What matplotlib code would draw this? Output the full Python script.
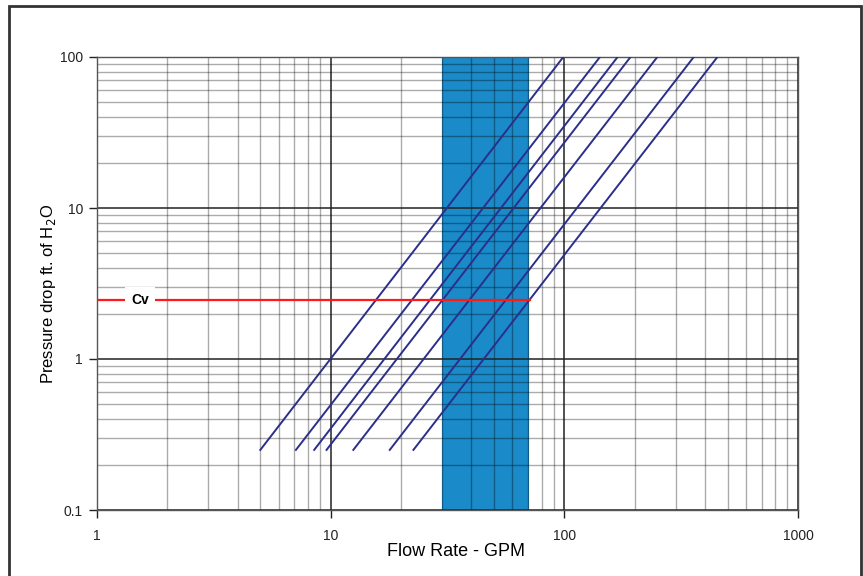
import matplotlib.pyplot as plt
from matplotlib.patches import Rectangle
from matplotlib.ticker import LogLocator, FixedLocator, NullFormatter

plt.rcParams['font.family'] = ['Liberation Sans', 'DejaVu Sans']

# curve endpoints: flow (GPM) at the low and high pressure ends
pressure_ends = [0.25, 100]
flow_start = [5.0, 7.1, 8.5, 9.6, 12.5, 17.9, 22.6]
flow_end = [99, 142, 169, 192, 250, 358, 452]

# shaded operating range
band_lo = 30
band_hi = 70.5

# Cv reference line
cv_pressure = 2.45
cv_flow = [1.02, 71.5]

x_ticks = [1, 10, 100, 1000]
x_labels = ["1", "10", "100", "1000"]
y_ticks = [0.1, 1, 10, 100]
y_labels = ["0.1", "1", "10", "100"]

fig = plt.figure(figsize=(8.63, 5.76), dpi=100)
ax = fig.add_axes([97/863, 1-510/576, (798-97)/863, (510-57)/576])

ax.set_xscale('log')
ax.set_yscale('log')
ax.set_xlim(1, 1000)
ax.set_ylim(0.1, 100)

ax.axvspan(band_lo, band_hi, color='#1a8ac8', zorder=1, lw=0)

ax.xaxis.set_minor_locator(LogLocator(base=10, subs=range(2, 10)))
ax.yaxis.set_minor_locator(LogLocator(base=10, subs=range(2, 10)))
ax.xaxis.set_minor_formatter(NullFormatter())
ax.yaxis.set_minor_formatter(NullFormatter())
ax.xaxis.set_major_locator(FixedLocator(x_ticks))
ax.yaxis.set_major_locator(FixedLocator(y_ticks))
ax.set_xticklabels(x_labels)
ax.set_yticklabels(y_labels)

ax.grid(which='minor', color='black', lw=1.0, alpha=0.33, zorder=2)
ax.grid(which='major', color='#222222', lw=1.1, zorder=2)
ax.set_axisbelow(False)

for fs, fe in zip(flow_start, flow_end):
    ax.plot([fs, fe], pressure_ends, color='#2b2f8a', lw=1.4, zorder=4)

ax.plot(cv_flow, [cv_pressure, cv_pressure], color='#ff1a1a', lw=1.6, zorder=5)
ax.text(1.53, cv_pressure, "Cv", fontsize=10, fontweight='bold', ha='center', va='center',
        zorder=6, bbox=dict(facecolor='white', edgecolor='none', pad=4.5))

ax.tick_params(which='minor', length=0)
ax.tick_params(which='major', direction='out', length=6, width=1, labelsize=10,
               colors='#222222')
ax.tick_params(axis='x', pad=8)
ax.tick_params(axis='y', pad=4)
for s in ax.spines.values():
    s.set_color('#555555')
    s.set_linewidth(1)
    s.set_zorder(3)

ax.set_xlabel("Flow Rate - GPM", fontsize=13)
ax.set_ylabel("Pressure drop ft. of H$_2$O", fontsize=12)
ax.xaxis.set_label_coords(0.512, -0.072)
ax.yaxis.set_label_coords(-0.055, 0.477)

fig.patches.append(Rectangle((9/863, -0.02), (861-9)/863, 1.02-6/576,
                             transform=fig.transFigure, fill=False,
                             edgecolor='#333333', lw=2))

fig.savefig("out.png", dpi=100)
